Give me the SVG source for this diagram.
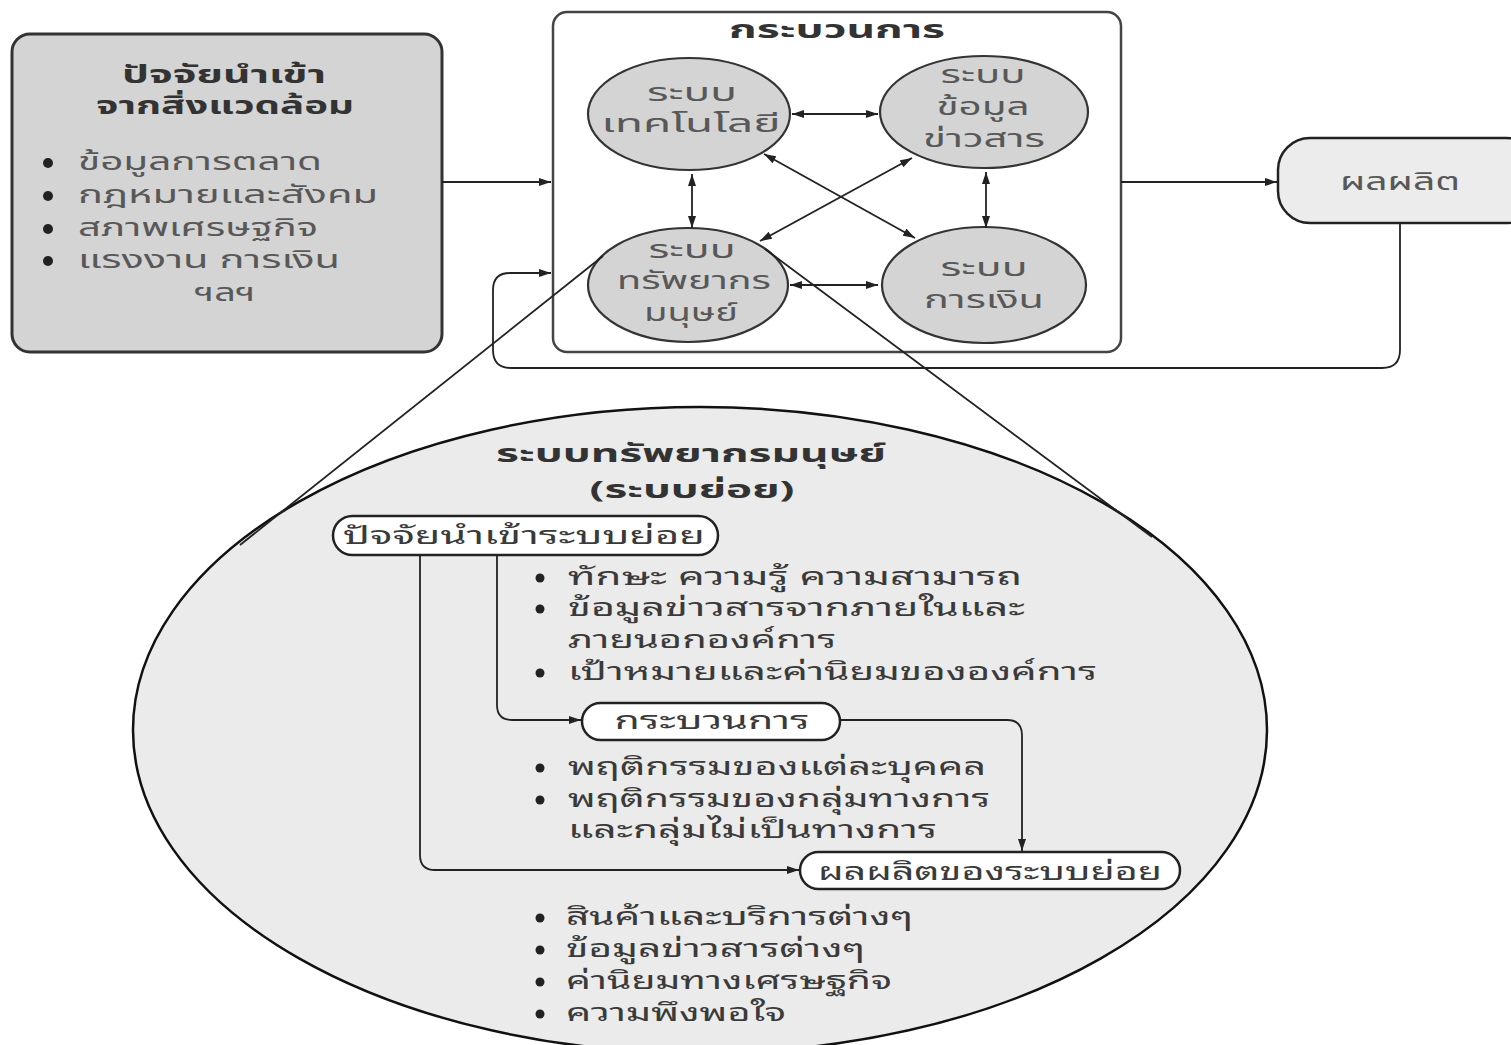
<svg xmlns="http://www.w3.org/2000/svg" width="1511" height="1045" viewBox="0 0 1511 1045">
<defs>
<style>
.t{font-family:"Noto Sans Thai","Noto Sans","DejaVu Sans",sans-serif;font-size:24px;fill:#585858;}
.b{font-weight:bold;fill:#333;}
.s{font-family:"Noto Sans Thai Looped","Noto Serif Thai","Noto Sans Thai","Noto Sans",sans-serif;fill:#3a3a3a;font-size:24px;}
.ln{fill:none;stroke:#222;stroke-width:1.8;}
.el{fill:#d4d4d4;stroke:#333;stroke-width:2.2;}
.pill{fill:#fff;stroke:#222;stroke-width:2.5;}
</style>
<marker id="ah" viewBox="0 0 12 8" refX="12" refY="4" markerWidth="12" markerHeight="8" markerUnits="userSpaceOnUse" orient="auto-start-reverse">
<path d="M0,0 L12,4 L0,8 Z" fill="#222"/>
</marker>
</defs>
<rect width="1511" height="1045" fill="#fff"/>

<g id="env-input">
<rect x="12" y="34" width="430" height="318" rx="18" fill="#d4d4d4" stroke="#333" stroke-width="3"/>
<text class="t b" x="224" y="83" text-anchor="middle" textLength="204" lengthAdjust="spacingAndGlyphs">ปัจจัยนำเข้า</text>
<text class="t b" x="225" y="114" text-anchor="middle" textLength="258" lengthAdjust="spacingAndGlyphs">จากสิ่งแวดล้อม</text>
<circle cx="48" cy="163" r="5" fill="#222"/>
<circle cx="48" cy="196" r="5" fill="#222"/>
<circle cx="48" cy="229" r="5" fill="#222"/>
<circle cx="48" cy="261" r="5" fill="#222"/>
<text class="t" x="78" y="170" textLength="244" lengthAdjust="spacingAndGlyphs">ข้อมูลการตลาด</text>
<text class="t" x="78" y="203" textLength="300" lengthAdjust="spacingAndGlyphs">กฎหมายและสังคม</text>
<text class="t" x="78" y="236" textLength="240" lengthAdjust="spacingAndGlyphs">สภาพเศรษฐกิจ</text>
<text class="t" x="78" y="268" textLength="262" lengthAdjust="spacingAndGlyphs">แรงงาน การเงิน</text>
<text class="t" x="225" y="301" text-anchor="middle" textLength="61" lengthAdjust="spacingAndGlyphs">ฯลฯ</text>
</g>

<g id="process">
<rect x="553" y="12" width="568" height="340" rx="14" fill="#fff" stroke="#444" stroke-width="2.5"/>
<text class="t b" x="837" y="38" text-anchor="middle" textLength="216" lengthAdjust="spacingAndGlyphs">กระบวนการ</text>
</g>

<g id="tech">
<ellipse class="el" cx="689" cy="114" rx="101" ry="56"/>
<text class="t" x="692" y="101" text-anchor="middle" textLength="90" lengthAdjust="spacingAndGlyphs">ระบบ</text>
<text class="t" x="691" y="132" text-anchor="middle" textLength="179" lengthAdjust="spacingAndGlyphs">เทคโนโลยี</text>
</g>

<g id="info">
<ellipse class="el" cx="984" cy="112" rx="104" ry="56"/>
<text class="t" x="983" y="83" text-anchor="middle" textLength="85" lengthAdjust="spacingAndGlyphs">ระบบ</text>
<text class="t" x="983" y="115" text-anchor="middle" textLength="93" lengthAdjust="spacingAndGlyphs">ข้อมูล</text>
<text class="t" x="984" y="147" text-anchor="middle" textLength="122" lengthAdjust="spacingAndGlyphs">ข่าวสาร</text>
</g>

<g id="hr">
<ellipse class="el" cx="688" cy="285" rx="100" ry="57"/>
<text class="t" x="692" y="258" text-anchor="middle" textLength="87" lengthAdjust="spacingAndGlyphs">ระบบ</text>
<text class="t" x="694" y="289" text-anchor="middle" textLength="154" lengthAdjust="spacingAndGlyphs">ทรัพยากร</text>
<text class="t" x="691" y="321" text-anchor="middle" textLength="94" lengthAdjust="spacingAndGlyphs">มนุษย์</text>
</g>

<g id="finance">
<ellipse class="el" cx="984" cy="285" rx="102" ry="58"/>
<text class="t" x="984" y="276" text-anchor="middle" textLength="87" lengthAdjust="spacingAndGlyphs">ระบบ</text>
<text class="t" x="984" y="308" text-anchor="middle" textLength="120" lengthAdjust="spacingAndGlyphs">การเงิน</text>
</g>

<g id="output">
<rect x="1278" y="138" width="260" height="85" rx="32" fill="#ececec" stroke="#222" stroke-width="2.5"/>
<text class="t" x="1400" y="190" text-anchor="middle" textLength="120" lengthAdjust="spacingAndGlyphs">ผลผลิต</text>
</g>

<g id="subsystem">
<ellipse cx="700" cy="730" rx="567" ry="323" fill="#ebebeb" stroke="#111" stroke-width="2.5"/>
<text class="t b" x="691" y="462" text-anchor="middle" textLength="390" lengthAdjust="spacingAndGlyphs">ระบบทรัพยากรมนุษย์</text>
<text class="t b" x="692" y="498" text-anchor="middle" textLength="205" lengthAdjust="spacingAndGlyphs">(ระบบย่อย)</text>
</g>

<g id="sub-input">
<rect class="pill" x="333" y="516" width="385" height="39" rx="19.5"/>
<text class="t s" x="343" y="544" textLength="362" lengthAdjust="spacingAndGlyphs">ปัจจัยนำเข้าระบบย่อย</text>
</g>

<g id="sub-input-list">
<circle cx="540" cy="578" r="4.5" fill="#222"/>
<circle cx="540" cy="609" r="4.5" fill="#222"/>
<circle cx="540" cy="673" r="4.5" fill="#222"/>
<text class="t s" x="568" y="585" textLength="454" lengthAdjust="spacingAndGlyphs">ทักษะ ความรู้ ความสามารถ</text>
<text class="t s" x="568" y="616" textLength="457" lengthAdjust="spacingAndGlyphs">ข้อมูลข่าวสารจากภายในและ</text>
<text class="t s" x="568" y="648" textLength="268" lengthAdjust="spacingAndGlyphs">ภายนอกองค์การ</text>
<text class="t s" x="568" y="680" textLength="529" lengthAdjust="spacingAndGlyphs">เป้าหมายและค่านิยมขององค์การ</text>
</g>

<g id="sub-process">
<rect class="pill" x="582" y="703" width="258" height="37" rx="18.5"/>
<text class="t s" x="712" y="729" text-anchor="middle" textLength="195" lengthAdjust="spacingAndGlyphs">กระบวนการ</text>
</g>

<g id="sub-process-list">
<circle cx="540" cy="768" r="4.5" fill="#222"/>
<circle cx="540" cy="800" r="4.5" fill="#222"/>
<text class="t s" x="568" y="775" textLength="418" lengthAdjust="spacingAndGlyphs">พฤติกรรมของแต่ละบุคคล</text>
<text class="t s" x="568" y="807" textLength="422" lengthAdjust="spacingAndGlyphs">พฤติกรรมของกลุ่มทางการ</text>
<text class="t s" x="568" y="838" textLength="369" lengthAdjust="spacingAndGlyphs">และกลุ่มไม่เป็นทางการ</text>
</g>

<g id="sub-output">
<rect class="pill" x="800" y="852" width="380" height="37" rx="18.5"/>
<text class="t s" x="818" y="880" textLength="344" lengthAdjust="spacingAndGlyphs">ผลผลิตของระบบย่อย</text>
</g>

<g id="sub-output-list">
<circle cx="540" cy="918" r="4.5" fill="#222"/>
<circle cx="540" cy="950" r="4.5" fill="#222"/>
<circle cx="540" cy="982" r="4.5" fill="#222"/>
<circle cx="540" cy="1014" r="4.5" fill="#222"/>
<text class="t s" x="566" y="925" textLength="347" lengthAdjust="spacingAndGlyphs">สินค้าและบริการต่างๆ</text>
<text class="t s" x="566" y="957" textLength="299" lengthAdjust="spacingAndGlyphs">ข้อมูลข่าวสารต่างๆ</text>
<text class="t s" x="566" y="989" textLength="326" lengthAdjust="spacingAndGlyphs">ค่านิยมทางเศรษฐกิจ</text>
<text class="t s" x="566" y="1021" textLength="220" lengthAdjust="spacingAndGlyphs">ความพึงพอใจ</text>
</g>

<g id="connectors">
<path class="ln" d="M442,182 H551" marker-end="url(#ah)"/>
<path class="ln" d="M1121,182 H1277" marker-end="url(#ah)"/>
<path class="ln" d="M1400,223 V350 Q1400,368 1382,368 H511 Q493,368 493,350 V290 Q493,273 510,273 H551" marker-end="url(#ah)"/>
<path class="ln" d="M792,114 H878" marker-start="url(#ah)" marker-end="url(#ah)"/>
<path class="ln" d="M692,174 V228" marker-start="url(#ah)" marker-end="url(#ah)"/>
<path class="ln" d="M986,172 V228" stroke-width="2.6" marker-start="url(#ah)" marker-end="url(#ah)"/>
<path class="ln" d="M790,285 H878" marker-start="url(#ah)" marker-end="url(#ah)"/>
<path class="ln" d="M764,154 L915,238" marker-start="url(#ah)" marker-end="url(#ah)"/>
<path class="ln" d="M912,158 L760,241" marker-start="url(#ah)" marker-end="url(#ah)"/>
<path class="ln" d="M603,256 L240,545"/>
<path class="ln" d="M765,249 L1152,537"/>
<path class="ln" d="M420,555 V855 Q420,870 435,870 H799" marker-end="url(#ah)"/>
<path class="ln" d="M497,555 V705 Q497,720 512,720 H581" marker-end="url(#ah)"/>
<path class="ln" d="M840,720 H1007 Q1022,720 1022,735 V851" marker-end="url(#ah)"/>
</g>
</svg>
